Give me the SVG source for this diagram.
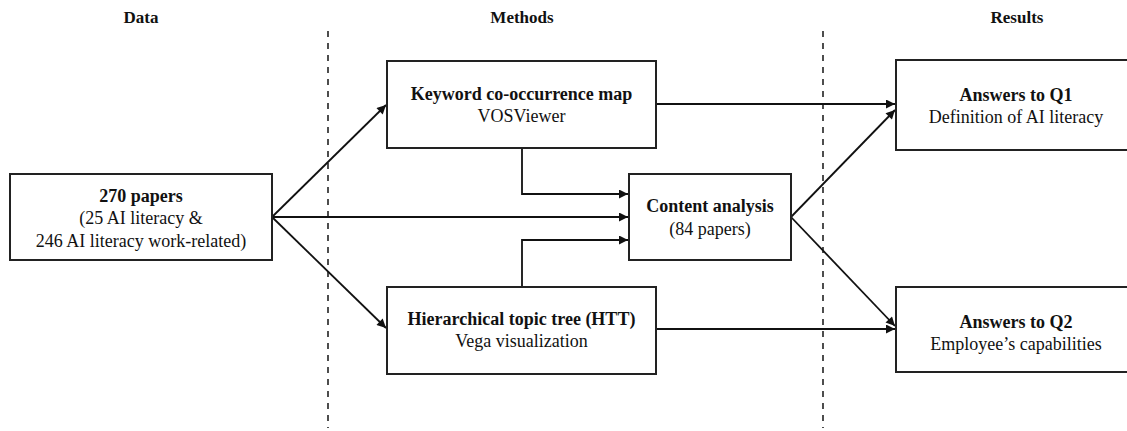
<svg xmlns="http://www.w3.org/2000/svg" width="1127" height="431" viewBox="0 0 1127 431">
<style>
text{font-family:"Liberation Serif","Times New Roman",serif;fill:#111;text-anchor:middle}
.h{font-size:17px;font-weight:bold}
.b{font-size:18px;font-weight:bold}
.r{font-size:18px}
.box{fill:#fff;stroke:#222;stroke-width:2}
.c{fill:none;stroke:#111;stroke-width:1.8}
.d{fill:none;stroke:#222;stroke-width:1.6;stroke-dasharray:6 6}
</style>
<defs>
<marker id="ah" viewBox="0 0 10 10" refX="10" refY="5" markerWidth="10" markerHeight="9" markerUnits="userSpaceOnUse" orient="auto">
<path d="M0,0 L10,5 L0,10 z" fill="#111"/>
</marker>
</defs>
<rect width="1127" height="431" fill="#fff"/>
<g id="headers">
<text class="h" x="141" y="23">Data</text>
<text class="h" x="522" y="23">Methods</text>
<text class="h" x="1017" y="23">Results</text>
</g>
<g id="dividers">
<line class="d" x1="328" y1="31" x2="328" y2="428"/>
<line class="d" x1="823" y1="31" x2="823" y2="428"/>
</g>
<g id="connectors">
<line class="c" x1="272" y1="217" x2="386" y2="105" marker-end="url(#ah)"/>
<line class="c" x1="272" y1="217" x2="628" y2="217" marker-end="url(#ah)"/>
<line class="c" x1="272" y1="217" x2="386" y2="328" marker-end="url(#ah)"/>
<polyline class="c" points="522,148 522,194 628,194" marker-end="url(#ah)"/>
<polyline class="c" points="522,287 522,240 628,240" marker-end="url(#ah)"/>
<line class="c" x1="656" y1="104" x2="895" y2="104" marker-end="url(#ah)"/>
<line class="c" x1="656" y1="329" x2="895" y2="329" marker-end="url(#ah)"/>
<line class="c" x1="791" y1="217" x2="895" y2="110" marker-end="url(#ah)"/>
<line class="c" x1="791" y1="217" x2="895" y2="326" marker-end="url(#ah)"/>
</g>
<g id="data">
<rect class="box" x="10" y="174" width="262" height="86"/>
<text class="b" x="141" y="202">270 papers</text>
<text class="r" x="141" y="224">(25 AI literacy &amp;</text>
<text class="r" x="141" y="247">246 AI literacy work-related)</text>
</g>
<g id="keyword">
<rect class="box" x="387" y="61" width="269" height="87"/>
<text class="b" x="521.5" y="100">Keyword co-occurrence map</text>
<text class="r" x="521.5" y="122">VOSViewer</text>
</g>
<g id="htt">
<rect class="box" x="387" y="287" width="269" height="87"/>
<text class="b" x="521.5" y="325">Hierarchical topic tree (HTT)</text>
<text class="r" x="521.5" y="347">Vega visualization</text>
</g>
<g id="content">
<rect class="box" x="629" y="174" width="162" height="86"/>
<text class="b" x="710" y="212">Content analysis</text>
<text class="r" x="710" y="235">(84 papers)</text>
</g>
<g id="q1">
<rect class="box" x="896" y="60" width="240" height="90"/>
<text class="b" x="1016" y="101">Answers to Q1</text>
<text class="r" x="1016" y="123">Definition of AI literacy</text>
</g>
<g id="q2">
<rect class="box" x="896" y="287" width="240" height="85"/>
<text class="b" x="1016" y="328">Answers to Q2</text>
<text class="r" x="1016" y="350">Employee’s capabilities</text>
</g>
</svg>
